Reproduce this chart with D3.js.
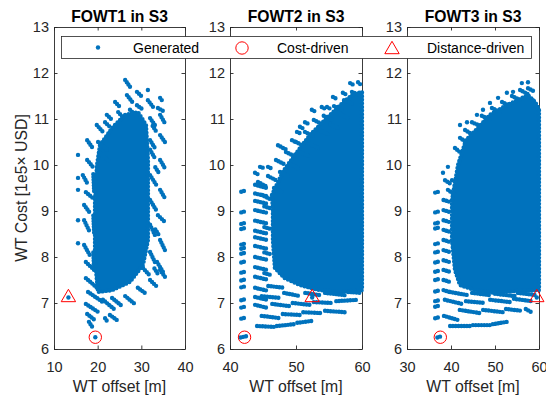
<!DOCTYPE html>
<html>
<head>
<meta charset="utf-8">
<script src="https://cdn.jsdelivr.net/npm/d3@7"></script>
<style>
  body { margin: 0; background: #fff; }
  text { font-family: "Liberation Sans", Arial, Helvetica, sans-serif; }
</style>
</head>
<body>
<svg id="chart" width="546" height="397"></svg>
<script>
// ---- labels and axes ----
const titles = ["FOWT1 in S3", "FOWT2 in S3", "FOWT3 in S3"];
const xDomains = [[10, 40], [40, 60], [30, 60]];
const xTicks = [[10, 20, 30, 40], [40, 50, 60], [30, 40, 50, 60]];
const yDomain = [6, 13];
const yTicks = [6, 7, 8, 9, 10, 11, 12, 13];
const xLabel = "WT offset [m]";
const yLabel = "WT Cost [1e5\u00d7 USD]";
const legendLabels = ["Generated", "Cost-driven", "Distance-driven"];

// ---- selected designs [offset, cost] per turbine ----
const costDriven = [[19.46, 6.256], [42.2, 6.256], [37.57, 6.256]];
const distanceDriven = [[13.3, 7.12], [52.45, 7.12], [59.5, 7.12]];

// ---- generated designs, FOWT1 ----
// dense interior of the cloud (outline of the overlapping points)
const gen1Core = [[20.53,10.43],[23.28,10.80],[26.26,11.09],[29.23,11.15],[31.07,10.87],[31.52,10.11],[31.52,8.37],[30.38,7.83],[27.4,7.46],[23.28,7.28],[20.08,7.24],[19.39,7.93],[19.39,9.24],[19.85,10.0]];
// runs of adjacent designs [x1, y1, x2, y2]
const gen1Runs = [
  [26.3,11.85,27.4,11.70],[29.0,11.59,30.2,11.48],[34.3,11.46,35.0,11.37],[26.7,11.52,28.1,11.35],
  [24.0,11.37,25.1,11.26],[29.0,11.30,30.4,11.20],[31.5,11.41,32.7,11.26],[33.8,11.24,35.4,11.15],
  [22.1,11.09,23.3,10.98],[19.8,10.87,21.2,10.72],[21.7,10.93,22.8,10.83],[32.0,11.02,33.1,10.87],
  [34.3,11.09,35.4,10.91],[17.6,10.54,18.7,10.39],[20.1,10.50,22.1,10.33],[17.6,10.11,18.9,9.96],
  [20.5,10.26,22.8,10.07],[34.3,10.65,35.4,10.50],[32.0,10.54,33.1,10.37],[16.6,9.78,17.8,9.57],
  [17.3,9.41,18.9,9.28],[16.9,9.13,18.2,8.96],[16.9,8.80,18.2,8.54],[16.9,8.26,18.2,8.04],
  [17.3,7.89,19.2,7.72],[17.3,7.54,20.5,7.28],[17.8,7.24,21.5,7.00],[17.3,6.98,20.5,6.78],
  [17.6,6.76,19.6,6.61],[18.0,6.59,18.9,6.46],[21.7,6.67,22.4,6.57],[21.2,7.07,24.0,6.85],
  [23.3,7.11,25.6,6.93],[26.3,7.15,28.5,6.98],[29.2,7.33,31.1,7.20],[32.0,7.50,33.4,7.37],
  [34.3,7.72,35.4,7.57],[32.0,10.33,33.1,10.15],[34.3,10.11,35.4,9.93],[32.0,9.78,33.4,9.57],
  [34.3,9.46,35.4,9.28],[32.0,9.24,33.4,9.02],[33.8,8.91,35.4,8.76],[32.0,8.70,33.1,8.48],
  [34.3,8.37,35.4,8.15],[32.0,8.11,33.1,7.89],[33.6,7.89,35.0,7.67],[30.4,7.76,32.0,7.59],
  [22.8,6.74,24.4,6.63],[24.7,11.15,26.0,11.02],[27.4,11.20,28.8,11.07],
  [19.0,9.80,19.2,9.40],[19.0,8.90,19.2,8.50],[19.0,8.10,19.2,7.70],
  [32.6,10.85,33.6,10.70],[33.2,9.95,34.2,9.80],[33.2,8.60,34.2,8.45],[33.0,7.75,34.0,7.60]
];
// isolated designs [x, y]
const gen1Points = [[31.5,11.63],[15.5,10.22],[15.5,9.72],[15.5,9.46],[15.5,8.80],[15.5,8.30],[13.3,7.12],[19.46,6.256]];

// ---- generated designs, FOWT2 ----
const gen2Core = [[46.36,9.35],[48.0,9.85],[49.85,10.22],[52.1,10.65],[54.4,10.98],[56.7,11.30],[58.5,11.52],[60,11.59],[60,7.28],[56.7,7.24],[53.6,7.28],[50.6,7.39],[48.3,7.54],[46.8,7.76],[46.5,8.37],[46.5,9.02]];
const gen2Runs = [
  [41.7,9.42,42.5,9.45],[41.7,8.97,42.5,9.00],[41.7,8.72,42.5,8.75],[41.7,8.61,42.5,8.64],
  [41.7,8.27,42.5,8.30],[41.7,8.18,42.5,8.21],[41.7,8.07,42.5,8.10],[41.7,7.88,42.5,7.91],
  [41.7,7.66,42.5,7.69],[41.7,7.49,42.5,7.52],[41.7,7.34,42.5,7.37],[41.7,7.06,42.5,7.09],
  [41.7,6.90,42.5,6.93],[41.7,6.66,42.5,6.69],[41.6,6.25,42.5,6.28],
  [43.8,9.57,45.6,9.50],[43.8,9.38,45.6,9.32],[43.8,9.22,45.6,9.16],[43.8,9.02,45.6,8.96],
  [43.8,8.79,45.6,8.73],[43.8,8.57,45.6,8.51],[43.8,8.43,45.6,8.37],[43.8,8.24,45.6,8.18],
  [43.8,8.00,45.6,7.94],[43.8,7.78,45.6,7.72],[43.8,7.57,45.6,7.51],[43.8,7.33,45.6,7.27],
  [43.8,7.13,45.6,7.07],
  [45.2,9.10,46.4,9.05],[45.2,8.65,46.4,8.60],[45.2,8.10,46.4,8.05],[45.2,7.65,46.4,7.60],
  [44.24,9.63,45.45,9.54],[45.76,9.76,46.97,9.67],[46.97,10.11,48.18,10.02],[48.48,10.28,49.7,10.20],
  [50.0,10.50,51.2,10.41],[51.36,10.72,52.6,10.63],[52.7,10.98,53.9,10.89],[54.2,11.07,55.45,10.98],
  [55.76,11.28,56.97,11.20],[57.27,11.41,58.48,11.33],[58.48,11.59,59.7,11.52],
  [44.85,9.35,46.06,9.26],[46.67,9.50,47.88,9.41],[47.58,9.85,48.79,9.76],[49.09,10.02,50.3,9.93],
  [50.6,10.28,51.8,10.20],[52.1,10.46,53.3,10.37],[53.6,10.76,54.85,10.67],[55.15,10.89,56.4,10.80],
  [56.7,11.11,57.88,11.02],
  [43.79,9.83,44.2,9.80],[44.55,9.96,45.0,9.94],[45.76,9.96,46.2,9.93],[47.27,10.43,47.7,10.40],
  [48.03,10.37,48.5,10.34],[49.39,10.54,49.8,10.51],[50.15,10.72,50.6,10.69],[50.6,10.83,51.0,10.80],
  [51.36,10.93,51.8,10.90],[52.4,11.20,52.8,11.17],[53.9,11.26,54.3,11.23],[54.7,11.26,55.1,11.23],
  [55.6,11.48,56.0,11.45],[57.1,11.57,57.5,11.54],[58.2,11.78,58.6,11.75],[59.4,11.80,59.85,11.74],
  [44.1,6.50,46.8,6.48],[47.1,6.50,49.8,6.54],[50.2,6.57,52.4,6.61],
  [44.8,6.72,47.6,6.67],[48.0,6.76,50.6,6.74],[51.1,6.80,53.9,6.78],[54.4,6.83,57.4,6.80],
  [43.8,6.96,45.8,6.89],[46.4,6.98,49.1,6.93],[49.5,7.00,52.1,6.96],[52.7,7.02,55.5,7.00],[56.1,7.04,59.4,7.07],
  [44.8,7.15,47.6,7.11],[48.2,7.22,50.6,7.15],[51.4,7.22,53.6,7.17],[54.4,7.22,57.4,7.17],[57.9,7.24,60.0,7.22],
  [45.8,7.37,48.3,7.33]
];
const gen2Points = [[52.45,7.12]];

// ---- generated designs, FOWT3 ----
const gen3Core = [[40.23,9.24],[41.6,10.0],[43.4,10.54],[46.1,10.80],[48.86,11.09],[52.3,11.28],[55.2,11.41],[57.5,11.52],[59.1,11.37],[60,11.20],[60,7.28],[54.5,7.26],[50.0,7.22],[45.45,7.28],[42.05,7.39],[40.9,7.72],[40.23,8.37]];
const gen3Runs = [
  [36.4,9.40,37.6,9.43],[36.4,8.97,37.6,9.00],[36.4,8.73,37.6,8.76],[36.4,8.62,37.6,8.65],
  [36.4,8.28,37.6,8.31],[36.4,8.10,37.6,8.13],[36.4,7.88,37.6,7.91],[36.4,7.68,37.6,7.71],
  [36.4,7.50,37.6,7.53],[36.4,7.25,37.6,7.28],[36.4,7.04,37.6,7.07],[36.4,6.92,37.6,6.95],
  [36.4,6.67,37.6,6.70],[36.9,6.25,37.9,6.28],
  [38.3,9.24,40.0,9.19],[38.3,9.02,40.0,8.97],[38.3,8.80,40.0,8.75],[38.3,8.59,40.0,8.54],
  [38.3,8.37,40.0,8.32],[38.3,8.15,40.0,8.10],[38.3,7.93,40.0,7.88],[38.3,7.72,40.0,7.67],
  [38.3,7.50,40.0,7.45],[38.3,7.28,40.0,7.23],
  [38.18,9.83,38.6,9.80],[39.3,9.96,39.7,9.93],[40.23,9.67,40.6,9.64],[42.05,10.87,42.5,10.84],
  [43.64,10.93,44.1,10.90],[45.9,11.09,46.3,11.06],[47.27,11.20,47.7,11.17],[48.86,11.35,49.3,11.32],
  [50.7,11.46,51.1,11.43],[52.7,11.57,53.1,11.54],[54.1,11.59,54.5,11.56],[56.1,11.78,56.5,11.75],
  [57.5,11.80,57.95,11.76],[58.6,11.41,59.0,11.37],[59.55,11.13,59.9,11.08],
  [38.64,9.67,40.23,9.57],[39.3,9.46,40.9,9.35],[40.9,10.37,42.27,10.26],[42.05,10.59,43.4,10.50],
  [43.2,10.76,44.77,10.67],[44.77,10.93,46.6,10.85],[47.0,11.07,48.86,10.98],[49.3,11.24,51.1,11.15],
  [51.6,11.37,53.4,11.28],[53.86,11.50,55.7,11.41],[55.7,11.63,57.5,11.54],[57.5,11.67,59.1,11.59],
  [58.6,11.33,60.0,11.24],
  [39.8,6.50,44.3,6.50],[45.0,6.52,48.9,6.52],[49.5,6.54,52.7,6.59],
  [38.4,6.72,41.6,6.63],[42.0,6.85,46.6,6.78],[47.3,6.85,51.8,6.80],[52.5,6.87,56.1,6.83],[57.0,6.87,58.6,6.78],
  [38.6,7.07,42.5,6.98],[43.4,7.04,47.7,7.00],[48.9,7.07,53.4,7.02],[54.3,7.09,58.4,7.04],
  [39.8,7.24,43.9,7.17],[44.8,7.22,48.9,7.17],[50.0,7.20,54.5,7.15],[55.2,7.22,59.5,7.17]
];
const gen3Points = [[59.5,7.12]];

// ---- layout ----
const plotTop = 27, plotBottom = 349;
const panelX = [[54, 185], [230, 362], [407, 539]];
const blue = "#0072BD", red = "#FF0000", ink = "#262626";
const dotR = 2.2, runGap = 2.8, rimGap = 3.6;
const tickFont = 14.5, labelFont = 15.8, titleFont = 15.7, legendFont = 14;

const svg = d3.select("#chart");

const panels = [
  { core: gen1Core, runs: gen1Runs, points: gen1Points },
  { core: gen2Core, runs: gen2Runs, points: gen2Points },
  { core: gen3Core, runs: gen3Runs, points: gen3Points }
];

const y = d3.scaleLinear().domain(yDomain).range([plotBottom, plotTop]);

panels.forEach((p, i) => {
  const [x0, x1] = panelX[i];
  const x = d3.scaleLinear().domain(xDomains[i]).range([x0, x1]);
  const g = svg.append("g");

  // axes box with inward ticks on all four sides
  const styleAxis = sel => sel.attr("color", ink)
    .attr("font-family", "'Liberation Sans', Arial, Helvetica, sans-serif")
    .attr("font-size", tickFont)
    .call(s => s.select(".domain").attr("stroke-width", 0.9))
    .call(s => s.selectAll(".tick line").attr("stroke-width", 0.9));

  g.append("g").attr("transform", `translate(0,${plotBottom})`)
    .call(d3.axisBottom(x).tickValues(xTicks[i]).tickFormat(d3.format("d"))
      .tickSizeInner(-3.5).tickSizeOuter(0).tickPadding(13))
    .call(styleAxis);
  g.append("g").attr("transform", `translate(0,${plotTop})`)
    .call(d3.axisTop(x).tickValues(xTicks[i]).tickSizeInner(-3.5).tickSizeOuter(0).tickFormat(() => ""))
    .call(styleAxis);
  g.append("g").attr("transform", `translate(${x0},0)`)
    .call(d3.axisLeft(y).tickValues(yTicks).tickFormat(d3.format("d"))
      .tickSizeInner(-3.5).tickSizeOuter(0).tickPadding(5))
    .call(styleAxis);
  g.append("g").attr("transform", `translate(${x1},0)`)
    .call(d3.axisRight(y).tickValues(yTicks).tickSizeInner(-3.5).tickSizeOuter(0).tickFormat(() => ""))
    .call(styleAxis);

  // generated designs: dense interior, its ragged rim, runs of designs, single designs
  const area = d3.line().x(d => x(d[0])).y(d => y(d[1])).curve(d3.curveLinearClosed);
  g.append("path").attr("d", area(p.core)).attr("fill", blue);
  g.append("path").attr("d", area(p.core))
    .attr("fill", "none").attr("stroke", blue)
    .attr("stroke-width", 2 * dotR).attr("stroke-linecap", "round")
    .attr("stroke-dasharray", `0 ${rimGap}`);

  g.append("g").selectAll("line").data(p.runs).join("line")
    .attr("x1", d => x(d[0])).attr("y1", d => y(d[1]))
    .attr("x2", d => x(d[2])).attr("y2", d => y(d[3]))
    .attr("stroke", blue).attr("stroke-width", 2 * dotR).attr("stroke-linecap", "round")
    .attr("stroke-dasharray", `0 ${runGap}`);

  g.append("g").selectAll("circle").data(p.points).join("circle")
    .attr("cx", d => x(d[0])).attr("cy", d => y(d[1])).attr("r", dotR).attr("fill", blue);

  // cost-driven design
  g.append("circle")
    .attr("cx", x(costDriven[i][0])).attr("cy", y(costDriven[i][1])).attr("r", 6.2)
    .attr("fill", "none").attr("stroke", red).attr("stroke-width", 1);

  // distance-driven design
  g.append("path")
    .attr("transform", `translate(${x(distanceDriven[i][0])},${y(distanceDriven[i][1])})`)
    .attr("d", "M0,-8.2L7.2,4.2L-7.2,4.2Z")
    .attr("fill", "none").attr("stroke", red).attr("stroke-width", 1);

  // titles and x label
  const cx = (x0 + x1) / 2;
  svg.append("text").attr("x", cx).attr("y", 22).attr("text-anchor", "middle")
    .attr("font-size", titleFont).attr("font-weight", "bold").attr("fill", "#000")
    .text(titles[i]);
  svg.append("text").attr("x", cx).attr("y", 392).attr("text-anchor", "middle")
    .attr("font-size", labelFont).attr("fill", ink).text(xLabel);
});

// y label
svg.append("text").attr("transform", `translate(27,${(plotTop + plotBottom) / 2}) rotate(-90)`)
  .attr("text-anchor", "middle").attr("font-size", labelFont).attr("fill", ink).text(yLabel);

// legend
const lg = svg.append("g");
lg.append("rect").attr("x", 61.5).attr("y", 36.5).attr("width", 470).attr("height", 22)
  .attr("fill", "#fff").attr("stroke", ink).attr("stroke-width", 0.8);
const legendMarkX = [98, 242, 392], legendTextX = [133, 277, 427], legendY = 47.5;
lg.append("circle").attr("cx", legendMarkX[0]).attr("cy", legendY).attr("r", dotR).attr("fill", blue);
lg.append("circle").attr("cx", legendMarkX[1]).attr("cy", legendY + 0.5).attr("r", 6.2)
  .attr("fill", "none").attr("stroke", red).attr("stroke-width", 1);
lg.append("path").attr("transform", `translate(${legendMarkX[2]},${legendY + 2})`)
  .attr("d", "M0,-8.2L7.2,4.2L-7.2,4.2Z").attr("fill", "none").attr("stroke", red).attr("stroke-width", 1);
legendLabels.forEach((t, k) => {
  lg.append("text").attr("x", legendTextX[k]).attr("y", 53).attr("font-size", legendFont)
    .attr("fill", "#000").text(t);
});
</script>
</body>
</html>
